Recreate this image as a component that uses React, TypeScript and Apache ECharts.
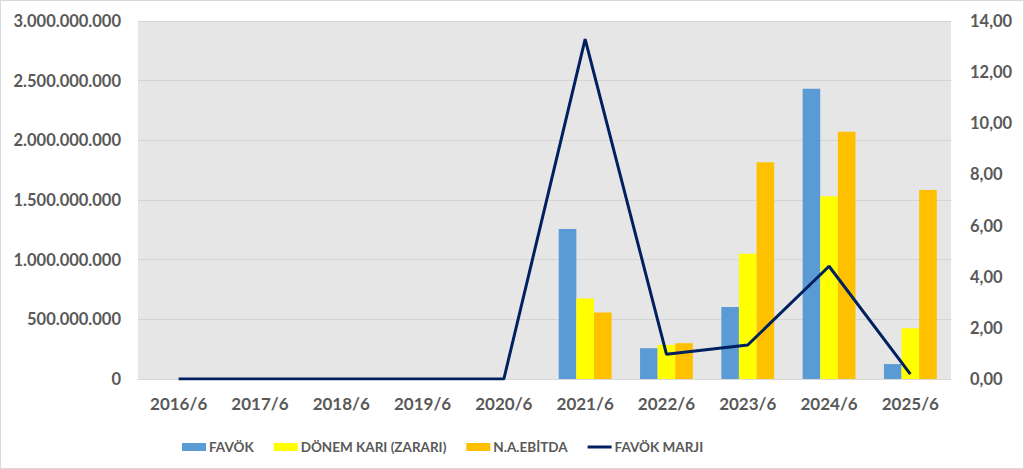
import React, { useEffect, useRef } from 'react';
import * as echarts from 'echarts';

// dönemler
const categories = ['2016/6', '2017/6', '2018/6', '2019/6', '2020/6', '2021/6', '2022/6', '2023/6', '2024/6', '2025/6'];

// TL cinsinden değerler
const favok = [null, null, null, null, null, 1258000000, 258000000, 603000000, 2433000000, 125000000];
const donemKari = [null, null, null, null, null, 675000000, 286000000, 1050000000, 1531000000, 425000000];
const naEbitda = [null, null, null, null, null, 558000000, 300000000, 1817000000, 2072000000, 1583000000];

// marj (sağ eksen)
const favokMarji = [0, 0, 0, 0, 0, 13.29, 0.97, 1.33, 4.41, 0.19];

const FONT = 'Lato, "Liberation Sans", sans-serif';
const LABEL_COLOR = '#595959';

const fmtTL = (v: number) => String(Math.round(v)).replace(/\B(?=(\d{3})+(?!\d))/g, '.');
const fmtPct = (v: number) => v.toFixed(2).replace('.', ',');

const App: React.FC = () => {
  const chartRef = useRef<HTMLDivElement>(null);

  useEffect(() => {
    if (!chartRef.current) return;
    const chart = echarts.init(chartRef.current, undefined, { renderer: 'svg' });

    const option: any = {
      animation: false,
      backgroundColor: '#ffffff',
      textStyle: { fontFamily: FONT },
      grid: { left: 137, right: 72, top: 20, bottom: 89, containLabel: false, outerBoundsMode: 'none' },
      legend: {
        top: 434,
        left: 176,
        itemGap: 20,
        itemWidth: 24,
        itemHeight: 8,
        textStyle: { color: LABEL_COLOR, fontSize: 13.5, fontWeight: 'bold', fontFamily: FONT, padding: [0, 0, 0, -2] },
        data: [
          { name: 'FAVÖK', icon: 'rect' },
          { name: 'DÖNEM KARI (ZARARI)', icon: 'rect' },
          { name: 'N.A.EBİTDA', icon: 'rect' },
          { name: 'FAVÖK MARJI', icon: 'path://M0,0 L24,0 L24,3 L0,3 Z' },
        ],
      },
      xAxis: {
        type: 'category',
        data: categories,
        axisTick: { show: false },
        axisLine: { lineStyle: { color: '#d9d9d9', width: 1 } },
        axisLabel: { color: LABEL_COLOR, fontSize: 17, fontWeight: 'bold', margin: 16 },
        splitArea: { show: false },
      },
      yAxis: [
        {
          type: 'value',
          min: 0,
          max: 3000000000,
          interval: 500000000,
          axisLabel: { color: LABEL_COLOR, fontSize: 16.5, fontWeight: 'bold', margin: 17, formatter: fmtTL },
          splitLine: { lineStyle: { color: '#d4d4d4', width: 1 } },
          splitArea: { show: true, areaStyle: { color: ['#e6e6e6'] } },
          axisLine: { show: false },
          axisTick: { show: false },
        },
        {
          type: 'value',
          min: 0,
          max: 14,
          interval: 2,
          position: 'right',
          axisLabel: { color: LABEL_COLOR, fontSize: 16.5, fontWeight: 'bold', margin: 19, formatter: fmtPct },
          splitLine: { show: false },
          axisLine: { show: false },
          axisTick: { show: false },
        },
      ],
      series: [
        {
          name: 'FAVÖK',
          type: 'bar',
          data: favok,
          barGap: '0%',
          barCategoryGap: '35%',
          itemStyle: { color: '#5b9bd5' },
        },
        {
          name: 'DÖNEM KARI (ZARARI)',
          type: 'bar',
          data: donemKari,
          itemStyle: { color: '#ffff00' },
        },
        {
          name: 'N.A.EBİTDA',
          type: 'bar',
          data: naEbitda,
          itemStyle: { color: '#ffc000' },
        },
        {
          name: 'FAVÖK MARJI',
          type: 'line',
          yAxisIndex: 1,
          data: favokMarji,
          showSymbol: false,
          symbol: 'none',
          lineStyle: { color: '#002060', width: 3 },
          itemStyle: { color: '#002060' },
        },
      ],
    };

    chart.setOption(option);

    const handleResize = () => chart.resize();
    window.addEventListener('resize', handleResize);
    return () => {
      window.removeEventListener('resize', handleResize);
      chart.dispose();
    };
  }, []);

  return (
    <div
      style={{
        position: 'absolute',
        left: 0,
        top: 0,
        width: 1024,
        height: 469,
        boxSizing: 'border-box',
        border: '1px solid #d9d9d9',
        background: '#ffffff',
      }}
    >
      <div ref={chartRef} style={{ width: '100%', height: '100%' }} />
    </div>
  );
};

export default App;
